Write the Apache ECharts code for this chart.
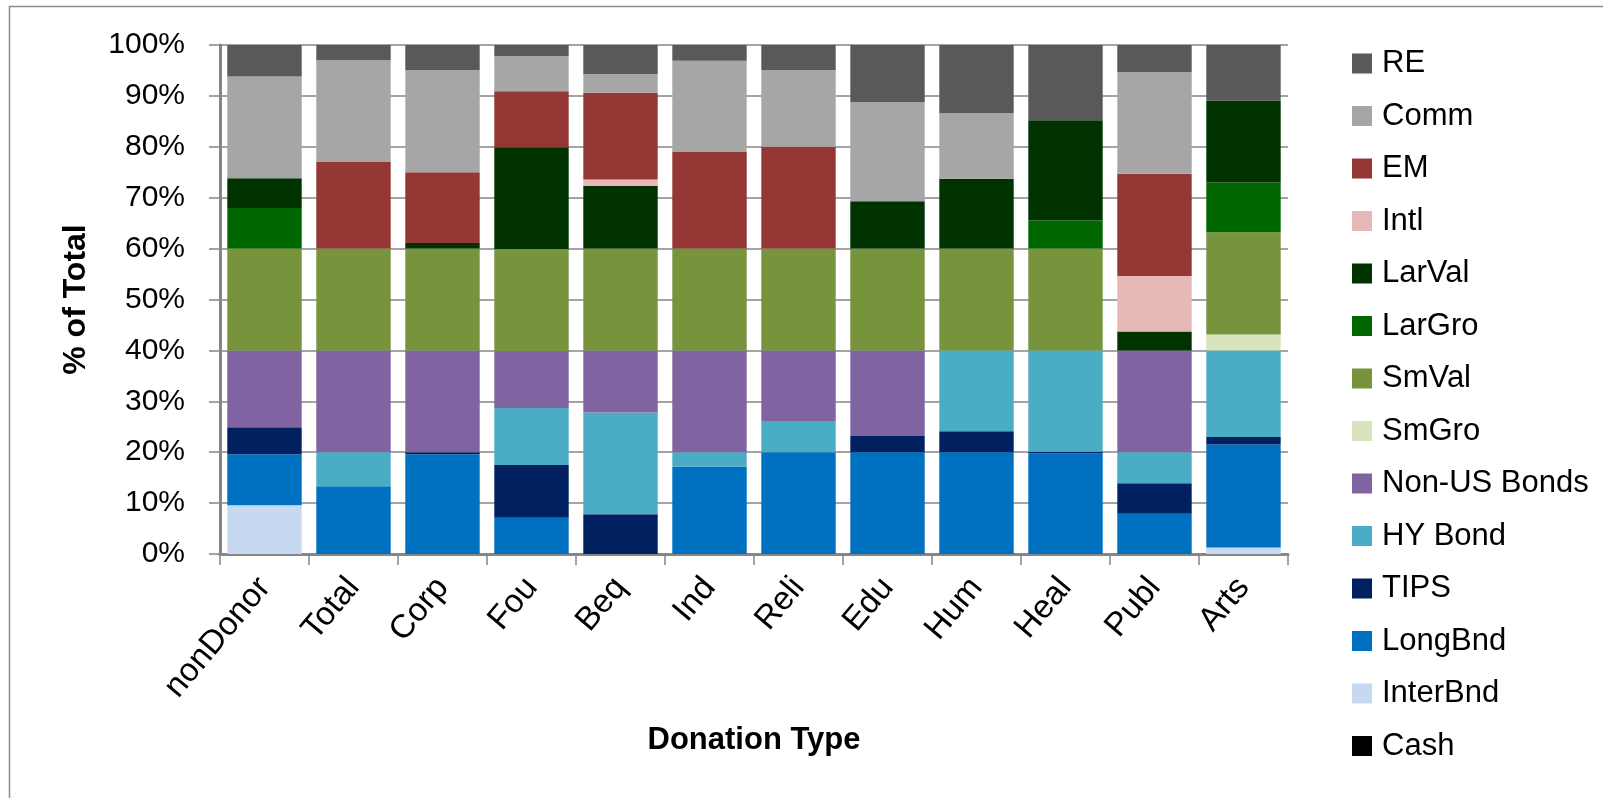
<!DOCTYPE html>
<html>
<head>
<meta charset="utf-8">
<script src="https://cdn.jsdelivr.net/npm/echarts@6/dist/echarts.min.js"></script>
<style>
  html, body { margin: 0; padding: 0; background: #fff; }
  #chart { width: 1603px; height: 798px; }
</style>
</head>
<body>
<div id="chart"></div>
<script>
// Asset allocation by donation type (% of total)
const categories = ['nonDonor', 'Total', 'Corp', 'Fou', 'Beq', 'Ind', 'Reli', 'Edu', 'Hum', 'Heal', 'Publ', 'Arts'];

const cash     = [0, 0, 0, 0, 0, 0, 0, 0, 0, 0, 0, 0];
const interBnd = [9.6, 0, 0, 0, 0, 0, 0, 0, 0, 0, 0, 1.3];
const longBnd  = [10, 13.3, 19.6, 7.1, 0, 17.2, 20, 20, 20, 19.8, 7.9, 20.2];
const tips     = [5.3, 0, 0.4, 10.4, 7.8, 0, 0, 3.2, 4.1, 0.3, 6, 1.5];
const hyBond   = [0, 6.7, 0, 11.2, 20, 2.8, 6, 0, 15.9, 19.9, 6.1, 17];
const nonUS    = [15.1, 20, 20, 11.2, 12.2, 20, 14, 16.8, 0, 0, 20, 0];
const smGro    = [0, 0, 0, 0, 0, 0, 0, 0, 0, 0, 0, 3.1];
const smVal    = [20, 20, 20, 20, 20, 20, 20, 20, 20, 20, 0, 20.1];
const larGro   = [8, 0, 0, 0, 0, 0, 0, 0, 0, 5.5, 0, 9.8];
const larVal   = [5.8, 0, 1.1, 20, 12.3, 0, 0, 9.3, 13.7, 19.7, 3.7, 16.1];
const intl     = [0, 0, 0, 0, 1.3, 0, 0, 0, 0, 0, 10.9, 0];
const em       = [0, 17, 13.9, 11, 17, 19, 20, 0, 0, 0, 20.1, 0];
const comm     = [20, 20, 20.1, 6.9, 3.7, 17.9, 15.1, 19.5, 12.9, 0, 20, 0];
const re       = [6.2, 3, 4.9, 2.2, 5.7, 3.1, 4.9, 11.2, 13.4, 14.8, 5.3, 10.9];

const yTicks = [0, 10, 20, 30, 40, 50, 60, 70, 80, 90, 100];

// Stack order, bottom to top
const seriesDefs = [
  { name: 'Cash',         data: cash,     color: '#000000' },
  { name: 'InterBnd',     data: interBnd, color: '#C6D9F1' },
  { name: 'LongBnd',      data: longBnd,  color: '#0070C0' },
  { name: 'TIPS',         data: tips,     color: '#002060' },
  { name: 'HY Bond',      data: hyBond,   color: '#4BACC6' },
  { name: 'Non-US Bonds', data: nonUS,    color: '#8064A2' },
  { name: 'SmGro',        data: smGro,    color: '#D7E4BD' },
  { name: 'SmVal',        data: smVal,    color: '#77933C' },
  { name: 'LarGro',       data: larGro,   color: '#006600' },
  { name: 'LarVal',       data: larVal,   color: '#003300' },
  { name: 'Intl',         data: intl,     color: '#E6B9B8' },
  { name: 'EM',           data: em,       color: '#953735' },
  { name: 'Comm',         data: comm,     color: '#A6A6A6' },
  { name: 'RE',           data: re,       color: '#595959' }
];

const FONT = "'Liberation Sans', Arial, sans-serif";
const AXIS_GRAY = '#868686';

const chart = echarts.init(document.getElementById('chart'), null, { renderer: 'canvas' });

chart.setOption({
  animation: false,
  backgroundColor: '#ffffff',
  textStyle: { fontFamily: FONT, color: '#000' },
  graphic: [{
    type: 'rect',
    silent: true,
    shape: { x: 9.5, y: 6.5, width: 1700, height: 900 },
    style: { fill: 'none', stroke: '#8c8c8c', lineWidth: 1.5 }
  }],
  grid: { left: 220, right: 315, top: 45, bottom: 244, containLabel: false },
  legend: {
    orient: 'vertical',
    left: 1352,
    top: 48,
    padding: 0,
    itemWidth: 20,
    itemHeight: 20,
    itemGap: 21.5,
    icon: 'rect',
    data: seriesDefs.map(s => s.name).reverse(),
    textStyle: { fontFamily: FONT, fontSize: 31, color: '#000', padding: [0, 0, 0, 5] },
    selectedMode: false
  },
  xAxis: {
    type: 'category',
    data: categories,
    name: 'Donation Type',
    nameLocation: 'middle',
    nameGap: 171,
    nameTextStyle: { fontFamily: FONT, fontSize: 31, fontWeight: 'bold', color: '#000' },
    axisLine: { show: true, lineStyle: { color: AXIS_GRAY, width: 3 } },
    axisTick: { show: true, alignWithLabel: false, length: 11, lineStyle: { color: AXIS_GRAY, width: 1.5 } },
    axisLabel: { rotate: 50, margin: 28, fontFamily: FONT, fontSize: 33, color: '#000', interval: 0 }
  },
  yAxis: {
    type: 'value',
    min: 0,
    max: 100,
    interval: 10,
    name: '% of Total',
    nameLocation: 'middle',
    nameGap: 128,
    nameRotate: 90,
    nameTextStyle: { fontFamily: FONT, fontSize: 32, fontWeight: 'bold', color: '#000' },
    axisLine: { show: true, lineStyle: { color: AXIS_GRAY, width: 3 } },
    axisTick: { show: true, inside: false, length: 11, lineStyle: { color: AXIS_GRAY, width: 1.5 } },
    axisLabel: {
      margin: 35,
      fontFamily: FONT,
      fontSize: 30,
      color: '#000',
      customValues: yTicks,
      formatter: v => v + '%'
    },
    splitLine: { show: true, lineStyle: { color: AXIS_GRAY, width: 1.5 } }
  },
  series: seriesDefs.map(s => ({
    name: s.name,
    type: 'bar',
    stack: 'total',
    barCategoryGap: '16.4%',
    data: s.data,
    itemStyle: { color: s.color },
    emphasis: { disabled: true }
  }))
});
</script>
</body>
</html>
